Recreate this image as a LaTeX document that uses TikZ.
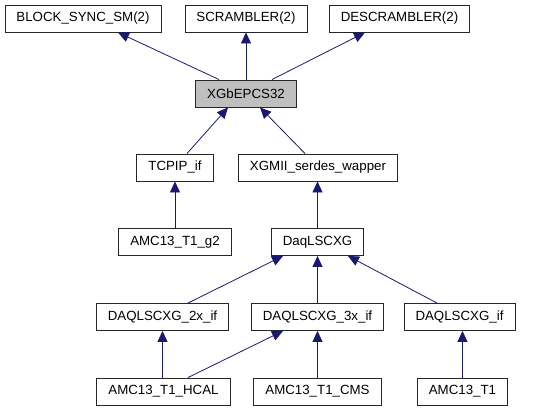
\documentclass[tikz,border=0pt]{standalone}
\usepackage{fontspec}
\setmainfont{Liberation Sans}
\usetikzlibrary{arrows.meta}
\definecolor{edgeblue}{HTML}{191970}
\tikzset{cls/.style={draw=black!85,line width=0.9pt,fill=white,minimum height=27,inner xsep=11.5,font=\fontsize{13.3}{16}\selectfont}}
\tikzset{base/.style={cls,fill=black!25}}
\tikzset{inherit/.style={draw=edgeblue,line width=0.8pt,-{Triangle[length=11pt,width=10pt]}}}

\begin{document}
\begin{tikzpicture}[x=1pt,y=-1pt]
        \useasboundingbox (0,0) rectangle (544,411);
        \node[base] (xgb) at (246,93.5) {XGbEPCS32};
        \node[cls] (bss) at (83,18.5) {BLOCK\_SYNC\_SM(2)};
        \node[cls] (scr) at (246,18.5) {SCRAMBLER(2)};
        \node[cls] (des) at (399.5,18.5) {DESCRAMBLER(2)};
        \node[cls] (tcpip) at (175,167.5) {TCPIP\_if};
        \node[cls] (xgmii) at (318,167.5) {XGMII\_serdes\_wapper};
        \node[cls] (g2) at (175,242) {AMC13\_T1\_g2};
        \node[cls] (daq) at (317.5,242) {DaqLSCXG};
        \node[cls] (x2) at (162.5,317) {DAQLSCXG\_2x\_if};
        \node[cls] (x3) at (317.5,317) {DAQLSCXG\_3x\_if};
        \node[cls] (xif) at (459.5,317) {DAQLSCXG\_if};
        \node[cls] (hcal) at (163.5,391.5) {AMC13\_T1\_HCAL};
        \node[cls] (cms) at (317.5,391.5) {AMC13\_T1\_CMS};
        \node[cls] (t1) at (462.5,391.5) {AMC13\_T1};
        % edges point to the parent
        \draw[inherit] ([xshift=-27]xgb.north) -- ([xshift=35]bss.south);
        \draw[inherit] (xgb) -- (scr);
        \draw[inherit] ([xshift=26]xgb.north) -- ([xshift=-34.5]des.south);
        \draw[inherit] ([xshift=12]tcpip.north) -- ([xshift=-18]xgb.south);
        \draw[inherit] ([xshift=-13]xgmii.north) -- ([xshift=14]xgb.south);
        \draw[inherit] (g2) -- (tcpip);
        \draw[inherit] (daq.north) -- (daq.north |- xgmii.south);
        \draw[inherit] ([xshift=25.5]x2.north) -- ([xshift=-34.5]daq.south);
        \draw[inherit] (x3) -- (daq);
        \draw[inherit] ([xshift=-22.5]xif.north) -- ([xshift=30.5]daq.south);
        \draw[inherit] (x2.south |- hcal.north) -- (x2.south);
        \draw[inherit] ([xshift=24.5]hcal.north) -- ([xshift=-34.5]x3.south);
        \draw[inherit] (cms) -- (x3);
        \draw[inherit] (t1.north) -- (t1.north |- xif.south);
    \end{tikzpicture}
\end{document}
